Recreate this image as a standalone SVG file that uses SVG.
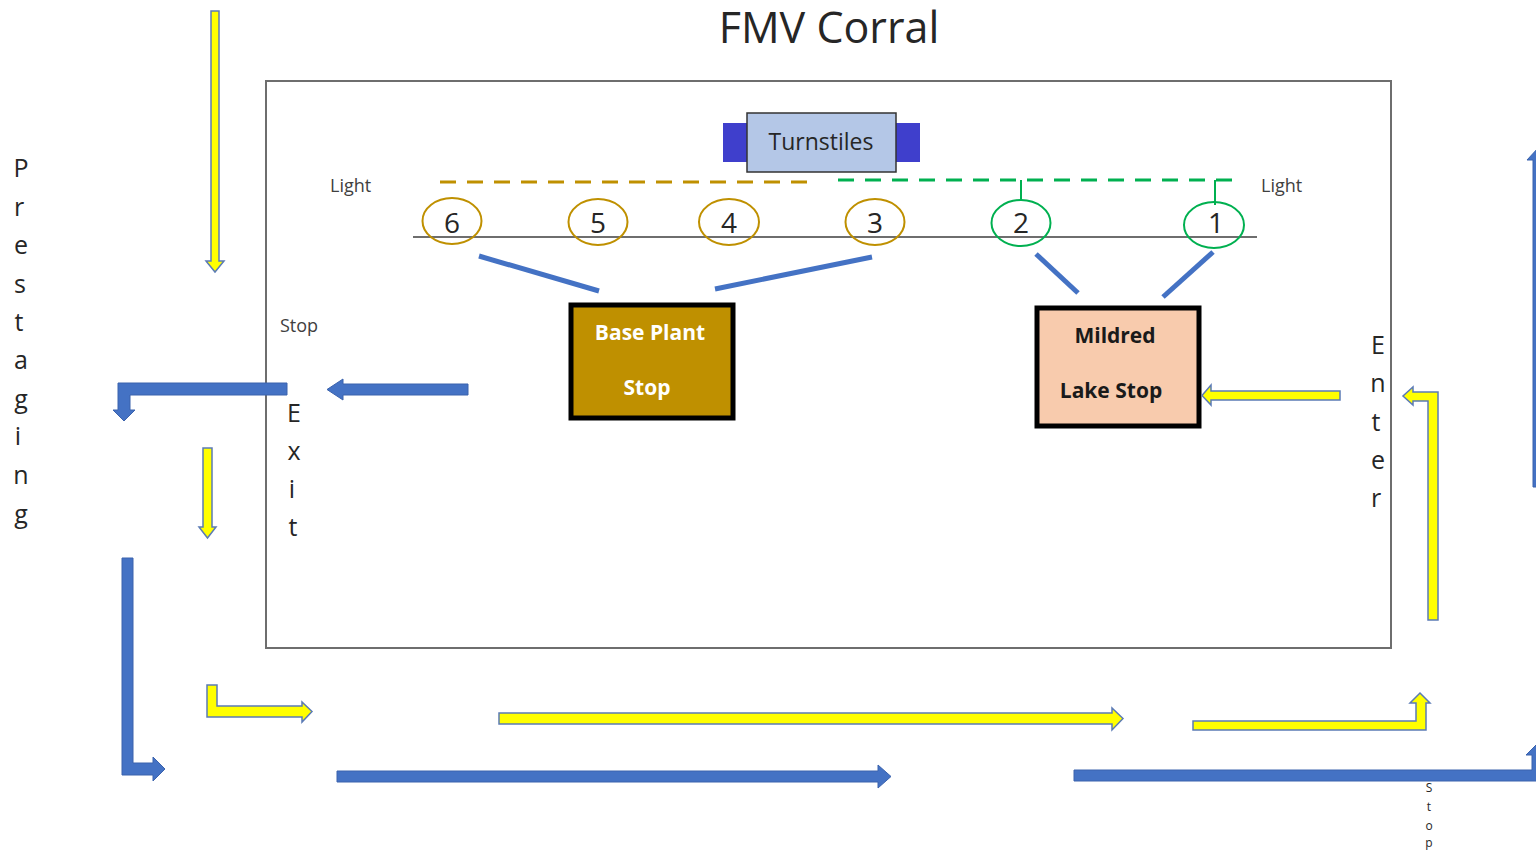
<svg xmlns="http://www.w3.org/2000/svg" width="1536" height="851" viewBox="0 0 1536 851">
<style>
.t{font-family:"Open Sans","Liberation Sans",sans-serif;fill:#262626}
.lbl{font-family:"Open Sans","Liberation Sans",sans-serif;fill:#404040;font-size:18px}
.vl{font-family:"Open Sans","Liberation Sans",sans-serif;fill:#262626;font-size:25px;text-anchor:middle}
.vs{font-family:"Open Sans","Liberation Sans",sans-serif;fill:#262626;font-size:12px;text-anchor:middle}
.dig{font-family:"Open Sans","Liberation Sans",sans-serif;fill:#262626;font-size:28px;text-anchor:middle}
.ya{fill:#ffff00;stroke:#5b7bb5;stroke-width:1.5;stroke-linejoin:miter}
.ba{fill:#4472c4;stroke:#3a62ad;stroke-width:1}
.bl{stroke:#4472c4;stroke-width:5;fill:none}
.cb{fill:none;stroke:#bf9000;stroke-width:2}
.cg{fill:none;stroke:#00b050;stroke-width:2}
.bx{font-family:"Open Sans","Liberation Sans",sans-serif;font-weight:bold;font-size:21px;text-anchor:middle}
</style>
<rect width="1536" height="851" fill="#ffffff"/>
<g id="title"><text class="t" x="829" y="43" font-size="43" text-anchor="middle">FMV Corral</text></g>
<g id="corral"><rect x="266" y="81" width="1125" height="567" fill="none" stroke="#6e6e6e" stroke-width="2"/></g>
<g id="turnstiles">
<rect x="723" y="123" width="24" height="39" fill="#3f3fcc"/>
<rect x="896" y="123" width="24" height="39" fill="#3f3fcc"/>
<rect x="747" y="113" width="149" height="59" fill="#b4c7e7" stroke="#333" stroke-width="1.5"/>
<text class="t" x="821" y="150" font-size="23" text-anchor="middle">Turnstiles</text>
</g>
<g id="lights">
<line x1="440" y1="182" x2="807" y2="182" stroke="#bf9000" stroke-width="3" stroke-dasharray="16,11"/>
<line x1="838" y1="180" x2="1235" y2="180" stroke="#00b050" stroke-width="3" stroke-dasharray="16,11"/>
<line x1="1021" y1="180" x2="1021" y2="200" stroke="#00b050" stroke-width="2"/>
<line x1="1215" y1="180" x2="1215" y2="205" stroke="#00b050" stroke-width="2"/>
<text class="lbl" x="330" y="192">Light</text>
<text class="lbl" x="1261" y="192">Light</text>
</g>
<g id="track"><line x1="413" y1="237" x2="1257" y2="237" stroke="#6e6e6e" stroke-width="2"/></g>
<g id="bay6"><ellipse cx="452" cy="221" rx="29.5" ry="23" class="cb"/><text class="dig" x="452" y="233">6</text></g>
<g id="bay5"><ellipse cx="598" cy="222" rx="29.5" ry="23" class="cb"/><text class="dig" x="598" y="233">5</text></g>
<g id="bay4"><ellipse cx="729" cy="222" rx="30" ry="23" class="cb"/><text class="dig" x="729" y="233">4</text></g>
<g id="bay3"><ellipse cx="875" cy="222" rx="29.5" ry="23" class="cb"/><text class="dig" x="875" y="233">3</text></g>
<g id="bay2"><ellipse cx="1021" cy="223" rx="29.5" ry="23" class="cg"/><text class="dig" x="1021" y="233">2</text></g>
<g id="bay1"><ellipse cx="1214" cy="225" rx="30" ry="23" class="cg"/><text class="dig" x="1216" y="233">1</text></g>
<g id="baseplant">
<rect x="571" y="305" width="162" height="113" fill="#bf9000" stroke="#000" stroke-width="5"/>
<text class="bx" x="650" y="340" fill="#ffffff">Base Plant</text>
<text class="bx" x="647" y="395" fill="#ffffff">Stop</text>
</g>
<g id="mildred">
<rect x="1037" y="308" width="162" height="118" fill="#f8cbad" stroke="#000" stroke-width="5"/>
<text class="bx" x="1115" y="343" fill="#1a1a1a">Mildred</text>
<text class="bx" x="1111" y="398" fill="#1a1a1a">Lake Stop</text>
</g>
<g id="labels">
<text class="lbl" x="280" y="332">Stop</text>
<text class="vl" x="294" y="422">E</text><text class="vl" x="294" y="460">x</text><text class="vl" x="292" y="498">i</text><text class="vl" x="293" y="536">t</text>
<text class="vl" x="1378" y="354">E</text><text class="vl" x="1378" y="392">n</text><text class="vl" x="1376" y="431">t</text><text class="vl" x="1378" y="469">e</text><text class="vl" x="1376" y="507">r</text>
<text class="vl" x="21" y="177">P</text><text class="vl" x="19" y="216">r</text><text class="vl" x="21" y="254">e</text><text class="vl" x="20" y="293">s</text><text class="vl" x="19" y="331">t</text><text class="vl" x="21" y="369">a</text><text class="vl" x="21" y="408">g</text><text class="vl" x="18" y="445">i</text><text class="vl" x="21" y="484">n</text><text class="vl" x="21" y="523">g</text>
<text class="vs" x="1429" y="792">S</text><text class="vs" x="1429" y="811">t</text><text class="vs" x="1429" y="830">o</text><text class="vs" x="1429" y="847">p</text>
</g>
<g id="connectors">
<line class="bl" x1="479" y1="256" x2="599" y2="291"/>
<line class="bl" x1="715" y1="289" x2="872" y2="257"/>
<line class="bl" x1="1036" y1="254" x2="1078" y2="293"/>
<line class="bl" x1="1213" y1="252" x2="1163" y2="297"/>
<polygon class="ya" points="211,11 219,11 219,261 224,261 215,272 206,261 211,261"/>
<polygon class="ya" points="203,448 212,448 212,527 216,527 207.5,538 199,527 203,527"/>
<polygon class="ba" points="468,384 343,384 343,379 327,389.5 343,400 343,395 468,395"/>
<polygon class="ba" points="287,383 118,383 118,410 113,410 124,421 135,410 130,410 130,395 287,395"/>
<polygon class="ba" points="122,558 133,558 133,763 153,763 153,757 165,769 153,781 153,775 122,775"/>
<polygon class="ya" points="207,685 217,685 217,706 302,706 302,702 312,711.5 302,722 302,717 207,717"/>
<polygon class="ya" points="499,713 1112,713 1112,708 1123,718.5 1112,730 1112,724 499,724"/>
<polygon class="ba" points="337,771 878,771 878,765 891,776.5 878,788 878,782 337,782"/>
<polygon class="ya" points="1193,721 1416,721 1416,703 1410,703 1420,693 1430,703 1426,703 1426,730 1193,730"/>
<polygon class="ba" points="1074,770 1532,770 1532,755 1526,755 1538,743 1550,755 1544,755 1544,781 1074,781"/>
<polygon class="ba" points="1533,487 1533,160 1527,160 1539,147 1551,160 1545,160 1545,487"/>
<polygon class="ya" points="1438,620 1428,620 1428,401 1413,401 1413,405 1403,396 1413,387 1413,392 1438,392"/>
<polygon class="ya" points="1340,391 1211,391 1211,385 1202,395.5 1211,405 1211,400 1340,400"/>
</g>
</svg>
